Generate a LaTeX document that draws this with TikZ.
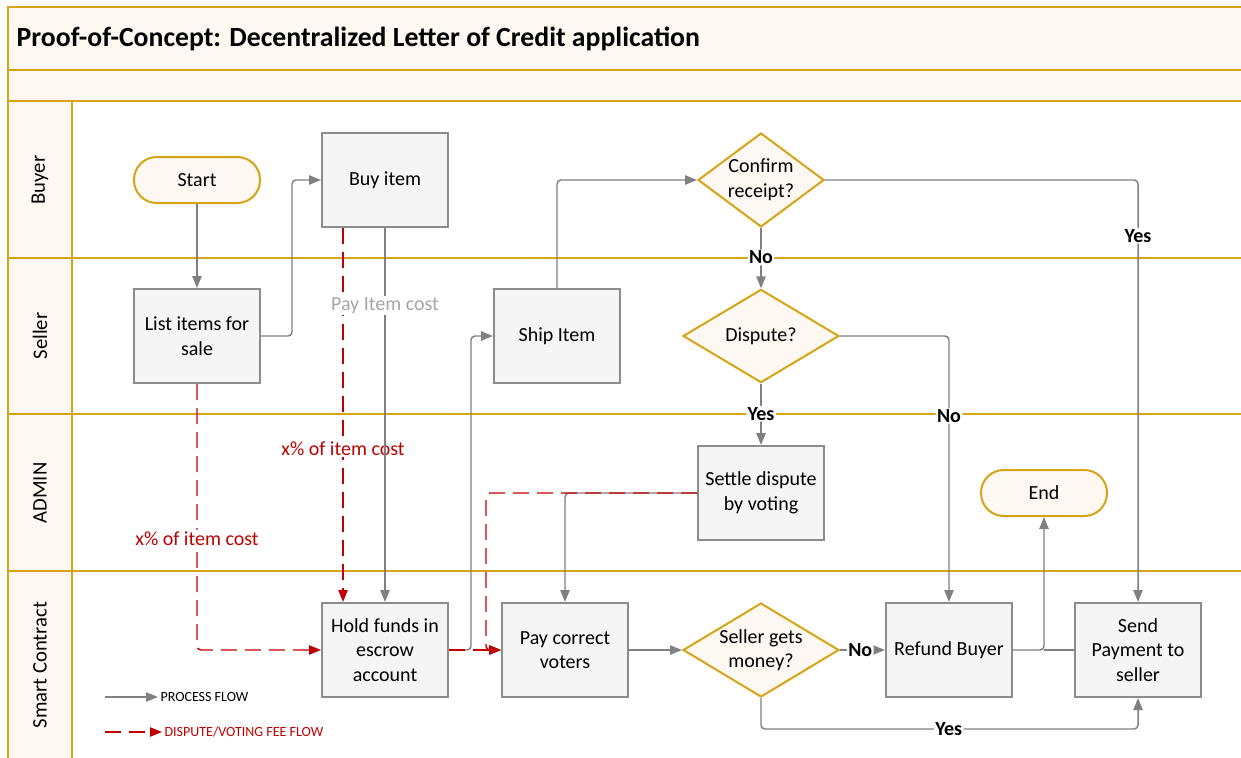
\documentclass[tikz,border=0pt]{standalone}
\usepackage{fontspec}
\setmainfont{Carlito}
\usetikzlibrary{arrows.meta,calc,shapes.geometric}
\definecolor{gold}{RGB}{214,164,22}
\definecolor{cream}{RGB}{254,248,242}
\definecolor{boxfill}{RGB}{245,245,245}
\definecolor{boxdraw}{RGB}{140,140,140}
\definecolor{flow}{RGB}{128,128,128}
\definecolor{fee}{RGB}{192,0,0}
\definecolor{paytext}{RGB}{166,166,166}
\begin{document}
\begin{tikzpicture}[x=0.75pt,y=-0.75pt,
  every node/.style={font=\fontsize{15}{18.5}\selectfont},
  procbox/.style={draw=boxdraw, fill=boxfill, line width=1.5pt, minimum width=94.5pt, minimum height=70.5pt, align=center, inner sep=2pt},
  termbox/.style={draw=gold, fill=cream, line width=1.5pt, rounded corners=17pt, minimum width=94.5pt, minimum height=34.5pt},
  decbox/.style={draw=gold, fill=cream, line width=1.5pt, diamond, inner sep=0pt},
  dectext/.style={align=center},
  lanebar/.style={draw=gold, line width=1.7pt},
  lanelabel/.style={rotate=90, font=\fontsize{15.5}{18}\selectfont},
  tip/.style={-{Triangle[length=9pt,width=7pt]}},
  flowline/.style={draw=flow, line width=1.1pt, rounded corners=3pt, tip},
  feeline/.style={draw=fee, line width=1.1pt, dash pattern=on 12pt off 6pt, rounded corners=3pt, tip},
  yesno/.style={font=\fontsize{15}{18}\bfseries, fill=white, inner sep=1pt, text=black},
  feelabel/.style={text=fee, fill=white, inner sep=1pt},
  paylabel/.style={text=paytext, fill=white, inner sep=1pt},
  legendtext/.style={font=\fontsize{10.5}{12}\selectfont, anchor=west, inner sep=1pt}
]
\useasboundingbox (0,0) rectangle (1241,757);
\clip (0,0) rectangle (1241,757);
% ---------- frame and lanes ----------
\fill[cream] (8,7) rectangle (1260,101);
\fill[cream] (8,101) rectangle (72,780);
\draw[lanebar] (8,780) -- (8,7) -- (1260,7);
\draw[lanebar] (8,70) -- (1260,70);
\draw[lanebar] (8,101) -- (1260,101);
\draw[lanebar] (72,101) -- (72,780);
\draw[lanebar] (8,258) -- (1260,258);
\draw[lanebar] (8,414) -- (1260,414);
\draw[lanebar] (8,571) -- (1260,571);
\node[anchor=west, font=\fontsize{20.8}{24}\bfseries\selectfont] (title) at (12,39) {Proof-of-Concept: Decentralized Letter of Credit application};
\node[lanelabel] (lbuyer) at (40,180) {Buyer};
\node[lanelabel] (lseller) at (40,336) {Seller};
\node[lanelabel] (ladmin) at (40,493) {ADMIN};
\node[lanelabel] (lsmart) at (40,665) {Smart Contract};
% ---------- nodes ----------
\node[termbox] (start) at (197,180) {Start};
\node[procbox] (buy) at (385,180) {Buy item};
\node[procbox] (list) at (197,336) {List items for\\sale};
\node[procbox] (ship) at (557,336) {Ship Item};
\node[decbox, minimum width=94.5pt, minimum height=70.5pt] (confirm) at (761,180) {};
\node[dectext] (confirmt) at (761,180) {Confirm\\receipt?};
\node[decbox, minimum width=117pt, minimum height=70pt] (dispute) at (761,336) {};
\node[dectext] (disputet) at (761,336) {Dispute?};
\node[procbox] (settle) at (761,493) {Settle dispute\\by voting};
\node[termbox] (end) at (1044,493) {End};
\node[procbox] (hold) at (385,650) {Hold funds in\\escrow\\account};
\node[procbox] (pay) at (565,650) {Pay correct\\voters};
\node[decbox, minimum width=117pt, minimum height=70.5pt] (seller) at (761,650) {};
\node[dectext] (sellert) at (761,650) {Seller gets\\money?};
\node[procbox] (refund) at (949,650) {Refund Buyer};
\node[procbox] (send) at (1138,650) {Send\\Payment to\\seller};
% ---------- connectors ----------
\draw[flowline] (start.south) -- (list.north);
\draw[flowline] (list.east) -- ++(31,0) |- (buy.west);
\draw[feeline] ($(buy.south west)+(22,0)$) -- node[feelabel, pos=0.59] (fee1) {x\% of item cost} ($(hold.north west)+(22,0)$);
\draw[flowline] (buy.south) -- node[paylabel, pos=0.207] (paytxt) {Pay Item cost} (hold.north);
\draw[feeline] (list.south) |- node[feelabel, pos=0.29] (fee2) {x\% of item cost} (hold.west);
\draw[flowline] (hold.east) -- ++(22,0) |- (ship.west);
\draw[feeline] (hold.east) -- (pay.west);
\draw[flowline] (settle.west) -| (pay.north);
\draw[feeline] (settle.west) -| ($(pay.west)+(-15,0)$) -- (pay.west);
\draw[flowline] (ship.north) |- (confirm.west);
\draw[flowline] (confirm.south) -- node[yesno, pos=0.49] (no1) {No} (dispute.north);
\draw[flowline] (confirm.east) -| node[yesno, pos=0.566] (yes1) {Yes} (send.north);
\draw[flowline] (dispute.south) -- node[yesno, pos=0.49] (yes2) {Yes} (settle.north);
\draw[flowline] (dispute.east) -| node[yesno, pos=0.65] (no2) {No} (refund.north);
\draw[flowline] (pay.east) -- (seller.west);
\draw[flowline] (seller.east) -- node[yesno, pos=0.45] (no3) {No} (refund.west);
\draw[flowline] (seller.south) -- ++(0,31) -| node[yesno, pos=0.249] (yes3) {Yes} (send.south);
\draw[flowline] (refund.east) -| (end.south);
\draw[draw=flow, line width=1.1pt] (send.west) -- (end.south |- send.west);
% ---------- legend ----------
\coordinate (lg1a) at (105,697);
\coordinate (lg1b) at (158,697);
\coordinate (lg2a) at (105,732);
\coordinate (lg2b) at (162,732);
\draw[flowline] (lg1a) -- (lg1b);
\node[legendtext] (lgt1) at (159,697) {PROCESS FLOW};
\draw[feeline] (lg2a) -- (lg2b);
\node[legendtext, text=fee] (lgt2) at (163,732) {DISPUTE/VOTING FEE FLOW};
\end{tikzpicture}
\end{document}
